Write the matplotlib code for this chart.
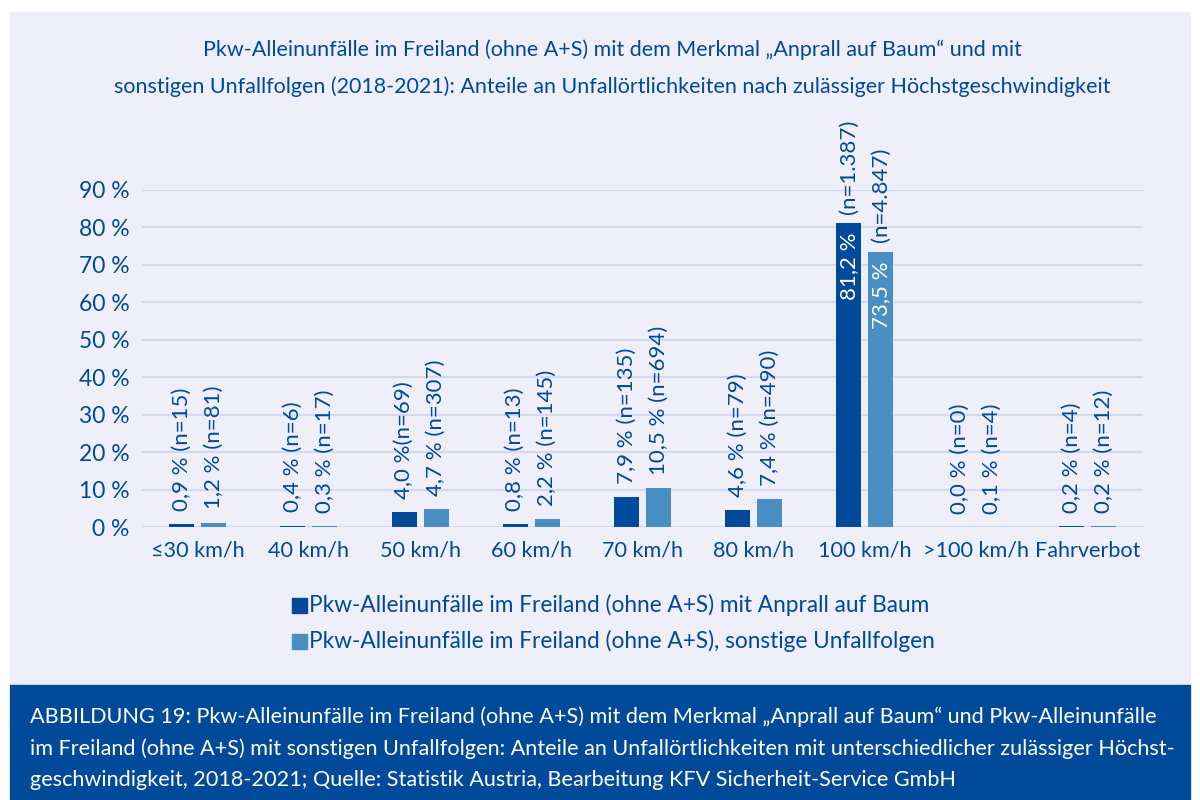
import matplotlib.pyplot as plt
import numpy as np
from matplotlib.patches import Rectangle

plt.rcParams["font.family"] = ["Lato", "DejaVu Sans"]

categories = ["≤30 km/h", "40 km/h", "50 km/h", "60 km/h", "70 km/h",
              "80 km/h", "100 km/h", ">100 km/h", "Fahrverbot"]
baum = [0.9, 0.4, 4.0, 0.8, 7.9, 4.6, 81.2, 0.0, 0.2]
sonstige = [1.2, 0.3, 4.7, 2.2, 10.5, 7.4, 73.5, 0.1, 0.2]
n_baum = ["15", "6", "69", "13", "135", "79", "1.387", "0", "4"]
n_sonstige = ["81", "17", "307", "145", "694", "490", "4.847", "4", "12"]
yticks = [0, 10, 20, 30, 40, 50, 60, 70, 80, 90]

dark = "#004a99"
light = "#4a8fc4"
bg = "#eeeff8"
grid = "#d6d8ee"

fig = plt.figure(figsize=(12, 8), dpi=100)
fig.patch.set_facecolor("white")

# background panel and caption band
fig.patches.append(Rectangle((10 / 1200, 115 / 800), 1180 / 1200, 673 / 800,
                             transform=fig.transFigure, color=bg, zorder=-2))
fig.patches.append(Rectangle((10 / 1200, 0), 1180 / 1200, 115 / 800,
                             transform=fig.transFigure, color=dark, zorder=-1))

ax = fig.add_axes([142 / 1200, 273 / 800, 1001 / 1200, 337 / 800])
ax.set_facecolor("none")

x = np.arange(len(categories))
w = 0.225
off = 0.144
ax.bar(x - off, baum, w, color=dark, zorder=3)
ax.bar(x + off, sonstige, w, color=light, zorder=3)

ax.set_xlim(-0.5, len(categories) - 0.5)
ax.set_ylim(0, 90)
ax.set_yticks(yticks)
ax.set_yticklabels([f"{t} %" for t in yticks])
ax.set_xticks(x)
ax.set_xticklabels(categories)
ax.tick_params(axis="both", length=0, labelcolor=dark)
ax.tick_params(axis="y", pad=9, labelsize=16.5)
ax.tick_params(axis="x", pad=10, labelsize=15.6)
ax.grid(axis="y", color=grid, linewidth=1.5, zorder=0)
for s in ax.spines.values():
    s.set_visible(False)


def pct(v):
    return f"{v:.1f}".replace(".", ",") + " %"


for i in range(len(categories)):
    for xpos, v, n in [(x[i] - off, baum[i], n_baum[i]),
                       (x[i] + off, sonstige[i], n_sonstige[i])]:
        if v > 50:
            ax.text(xpos, v - 2.5, pct(v), rotation=90, ha="center", va="top",
                    color="white", fontsize=16, zorder=4)
            ax.text(xpos, v + 2.5, f"(n={n})", rotation=90, ha="center",
                    va="bottom", color=dark, fontsize=16, zorder=4)
        else:
            sep = "" if i == 2 and xpos < x[i] else " "
            ax.text(xpos, v + 3.5, pct(v) + sep + f"(n={n})", rotation=90,
                    ha="center", va="bottom", color=dark, fontsize=16,
                    zorder=4, clip_on=False)

fig.text(612 / 1200, 1 - 50 / 800,
         "Pkw-Alleinunfälle im Freiland (ohne A+S) mit dem Merkmal „Anprall auf Baum“ und mit",
         ha="center", va="center", color=dark, fontsize=15.5)
fig.text(612 / 1200, 1 - 87 / 800,
         "sonstigen Unfallfolgen (2018-2021): Anteile an Unfallörtlichkeiten nach zulässiger Höchstgeschwindigkeit",
         ha="center", va="center", color=dark, fontsize=15.5)

# legend
for yy, col, lab in [(605, dark, "Pkw-Alleinunfälle im Freiland (ohne A+S) mit Anprall auf Baum"),
                     (641, light, "Pkw-Alleinunfälle im Freiland (ohne A+S), sonstige Unfallfolgen")]:
    fig.patches.append(Rectangle((292 / 1200, 1 - (yy + 8) / 800), 15 / 1200, 15 / 800,
                                 transform=fig.transFigure, color=col))
    fig.text(309 / 1200, 1 - yy / 800, lab, ha="left", va="center",
             color=dark, fontsize=16.3)

caption = [
    "ABBILDUNG 19: Pkw-Alleinunfälle im Freiland (ohne A+S) mit dem Merkmal „Anprall auf Baum“ und Pkw-Alleinunfälle",
    "im Freiland (ohne A+S) mit sonstigen Unfallfolgen: Anteile an Unfallörtlichkeiten mit unterschiedlicher zulässiger Höchst-",
    "geschwindigkeit, 2018-2021; Quelle: Statistik Austria, Bearbeitung KFV Sicherheit-Service GmbH",
]
for k, line in enumerate(caption):
    fig.text(30 / 1200, 1 - (717 + 31.5 * k) / 800, line, ha="left",
             va="center", color="white", fontsize=15.6)

fig.savefig("out.png", dpi=100, facecolor=fig.get_facecolor())
